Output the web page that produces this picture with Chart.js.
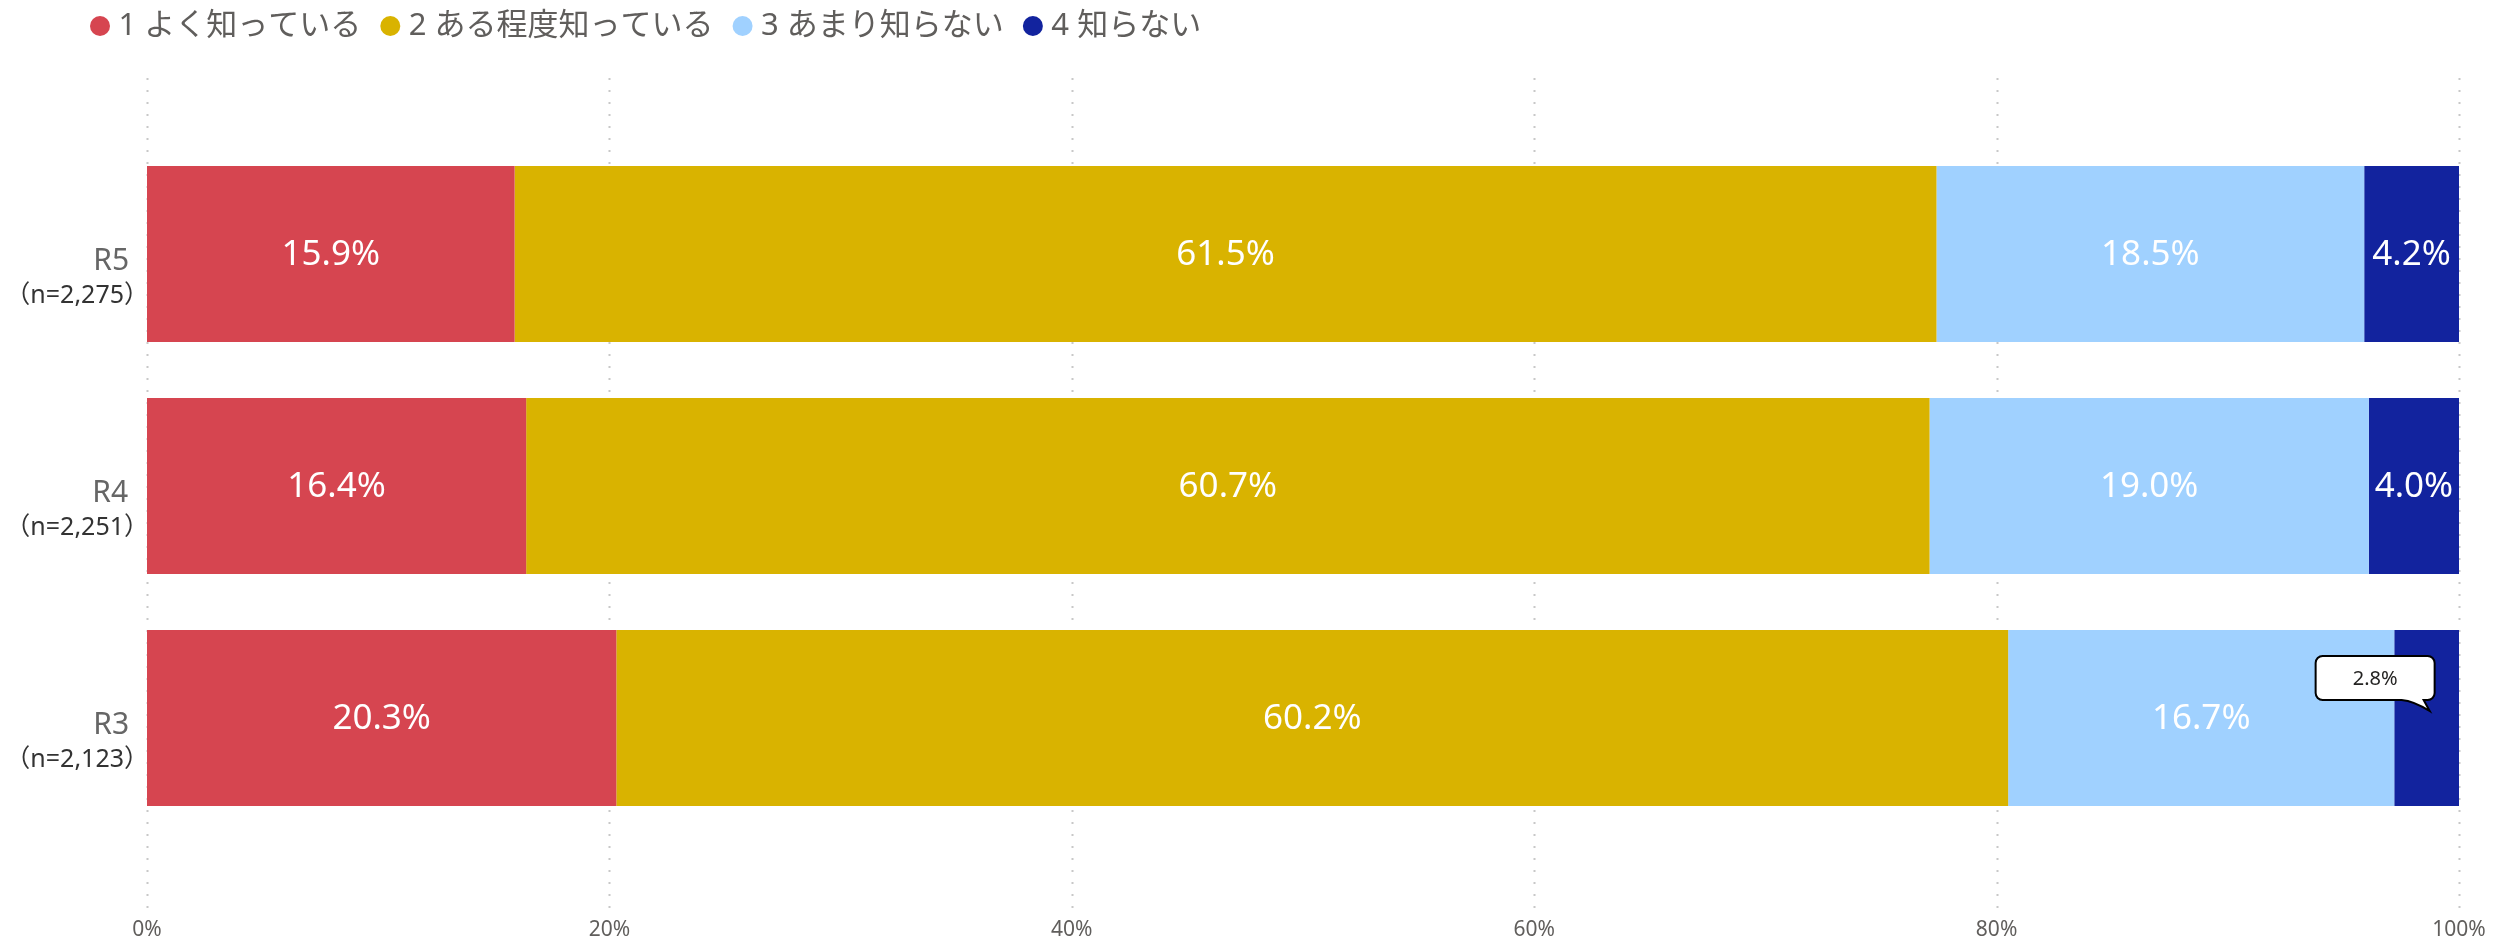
<!DOCTYPE html>
<html>
<head>
<meta charset="utf-8">
<script src="https://cdn.jsdelivr.net/npm/chart.js@4"></script>
<style>
  html, body { margin: 0; padding: 0; background: #ffffff; }
  canvas { display: block; }
</style>
</head>
<body>
<canvas id="c" width="2493" height="941"></canvas>
<script>
// Survey years (top to bottom) and their sample sizes
const categories = ['R5', 'R4', 'R3'];
const sampleSizes = ['（n=2,275）', '（n=2,251）', '（n=2,123）'];

// Answer options
const seriesNames = ['1 よく知っている', '2 ある程度知っている', '3 あまり知らない', '4 知らない'];

// Share of respondents (%) per answer, in category order
const wellKnown     = [15.9, 16.4, 20.3];
const somewhatKnown = [61.5, 60.7, 60.2];
const littleKnown   = [18.5, 19.0, 16.7];
const notKnown      = [4.2, 4.0, 2.8];

// Axis ticks (%)
const xTicks = [0, 20, 40, 60, 80, 100];

const seriesColors = ['#D64550', '#D9B300', '#A0D1FF', '#12239E'];
const FONT = "'Noto Sans', 'Noto Sans CJK JP', sans-serif";
const TEXT_GRAY = '#605E5C';

const fmt = v => v.toFixed(1) + '%';

// Dotted vertical gridlines that run the full height of the plot
const dottedGrid = {
  id: 'dottedGrid',
  beforeDatasetsDraw(chart) {
    const { ctx, scales: { x } } = chart;
    ctx.save();
    ctx.strokeStyle = '#C8C8C8';
    ctx.lineWidth = 2;
    ctx.setLineDash([2, 10]);
    xTicks.forEach(v => {
      const px = Math.round(x.getPixelForValue(v)) + 0.5;
      ctx.beginPath();
      ctx.moveTo(px, 78);
      ctx.lineTo(px, 913);
      ctx.stroke();
    });
    ctx.restore();
  }
};

// Value labels: white text inside the bar, or a speech-bubble callout when the bar is too narrow
const valueLabels = {
  id: 'valueLabels',
  afterDatasetsDraw(chart) {
    const { ctx, chartArea } = chart;
    ctx.save();
    chart.data.datasets.forEach((ds, di) => {
      const meta = chart.getDatasetMeta(di);
      meta.data.forEach((bar, i) => {
        const v = ds.data[i];
        const text = fmt(v);
        const right = Math.min(bar.x, chartArea.right);
        const left = bar.base;
        const w = right - left;
        const cx = (left + right) / 2;
        const cy = bar.y;
        ctx.font = '35px ' + FONT;
        const tw = ctx.measureText(text).width;
        if (tw + 6 <= w) {
          ctx.fillStyle = '#FFFFFF';
          ctx.textAlign = 'center';
          ctx.textBaseline = 'middle';
          ctx.fillText(text, cx, cy + 1);
        } else {
          drawCallout(ctx, text, cx + 3, cy - 7);
        }
      });
    });
    ctx.restore();
  }
};

function drawCallout(ctx, text, tipX, tipY) {
  const bw = 119, bh = 44, r = 7;
  const rightX = tipX + 5;
  const leftX = rightX - bw;
  const bottom = tipY - 11;
  const top = bottom - bh;
  ctx.save();
  ctx.beginPath();
  ctx.moveTo(leftX + r, top);
  ctx.lineTo(rightX - r, top);
  ctx.arcTo(rightX, top, rightX, top + r, r);
  ctx.lineTo(rightX, bottom - r);
  ctx.arcTo(rightX, bottom, rightX - r, bottom, r);
  ctx.lineTo(tipX - 6, bottom);
  ctx.lineTo(tipX, tipY);
  ctx.quadraticCurveTo(tipX - 16, bottom + 1, tipX - 28, bottom);
  ctx.lineTo(leftX + r, bottom);
  ctx.arcTo(leftX, bottom, leftX, bottom - r, r);
  ctx.lineTo(leftX, top + r);
  ctx.arcTo(leftX, top, leftX + r, top, r);
  ctx.closePath();
  ctx.fillStyle = '#FFFFFF';
  ctx.fill();
  ctx.lineWidth = 2;
  ctx.strokeStyle = '#000000';
  ctx.stroke();
  ctx.font = '20px ' + FONT;
  ctx.fillStyle = '#252423';
  ctx.textAlign = 'center';
  ctx.textBaseline = 'middle';
  ctx.fillText(text, leftX + bw / 2, top + bh / 2 + 1);
  ctx.restore();
}

// Two-line category labels: year in a larger gray face, sample size below
const categoryLabels = {
  id: 'categoryLabels',
  afterDraw(chart) {
    const { ctx, scales: { y } } = chart;
    ctx.save();
    ctx.textAlign = 'left';
    ctx.textBaseline = 'alphabetic';
    categories.forEach((cat, i) => {
      const cy = y.getPixelForValue(i);
      ctx.font = '30px ' + FONT;
      ctx.fillStyle = '#666666';
      let m = ctx.measureText(cat);
      ctx.fillText(cat, 128 - m.actualBoundingBoxRight, cy + 16);
      ctx.font = '25px ' + FONT;
      ctx.fillStyle = '#333333';
      m = ctx.measureText(sampleSizes[i]);
      ctx.fillText(sampleSizes[i], 132 - m.actualBoundingBoxRight, cy + 49);
    });
    ctx.restore();
  }
};

// Pin the legend to the top-left corner
const legendPlacement = {
  id: 'legendPlacement',
  afterLayout(chart) {
    const lg = chart.legend;
    if (!lg) return;
    const w = lg.width;
    lg.left = 71;
    lg.right = 71 + w;
    lg.top = -15.5;
  }
};

const datasets = [wellKnown, somewhatKnown, littleKnown, notKnown].map((vals, k) => ({
  label: seriesNames[k],
  data: vals,
  backgroundColor: seriesColors[k],
  borderWidth: 0,
  categoryPercentage: 1,
  barPercentage: 176 / 232
}));

new Chart(document.getElementById('c'), {
  type: 'bar',
  data: { labels: categories, datasets },
  plugins: [dottedGrid, valueLabels, categoryLabels, legendPlacement],
  options: {
    indexAxis: 'y',
    responsive: false,
    animation: false,
    devicePixelRatio: 1,
    layout: { padding: { left: 147, right: 34, top: 71, bottom: 0 } },
    scales: {
      x: {
        stacked: true,
        min: 0,
        max: 100,
        afterBuildTicks: s => { s.ticks = xTicks.map(v => ({ value: v })); },
        // keep the axis band a fixed height and let the tick labels overhang the sides
        afterFit: s => { s.height = 107; s.paddingLeft = 0; s.paddingRight = 0; },
        grid: { display: false, drawTicks: false },
        border: { display: false },
        ticks: {
          padding: 83,
          color: TEXT_GRAY,
          font: { family: FONT, size: 21 },
          callback: v => v + '%'
        }
      },
      y: {
        stacked: true,
        display: false
      }
    },
    plugins: {
      tooltip: { enabled: false },
      legend: {
        display: true,
        position: 'top',
        align: 'start',
        labels: {
          usePointStyle: true,
          pointStyle: 'circle',
          boxWidth: 6,
          boxHeight: 14.14,
          padding: 26,
          color: TEXT_GRAY,
          font: { family: FONT, size: 31 }
        }
      }
    }
  }
});
</script>
</body>
</html>
